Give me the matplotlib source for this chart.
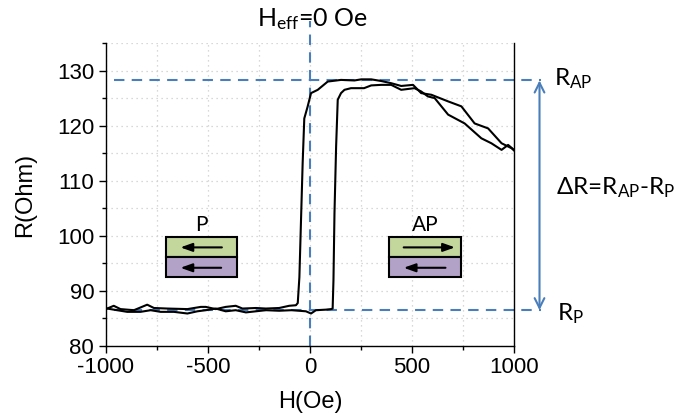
import matplotlib
matplotlib.use('Agg')
import matplotlib.pyplot as plt
from matplotlib.patches import Rectangle
from matplotlib.ticker import MultipleLocator

plt.rcParams['font.family'] = ['Liberation Sans', 'DejaVu Sans']
plt.rcParams['mathtext.default'] = 'regular'
plt.rcParams['axes.unicode_minus'] = False

# ramo de subida (H crescente): P -> AP perto de +110 Oe
h_up = [-1000, -994, -962, -945, -896, -831, -781, -732, -667, -601, -552, -511,
        -462, -413, -364, -314, -265, -216, -151, -90, -20, 5, 29, 78, 103, 111,
        115, 120, 128, 136, 152, 169, 201, 265, 300, 349, 398, 447, 512, 545, 578,
        611, 677, 758, 840, 889, 939, 971, 1000]
r_up = [86.8, 86.8, 86.6, 86.5, 86.2, 86.2, 86.5, 86.2, 86.2, 85.9, 86.3, 86.5,
        86.8, 86.3, 86.5, 86.1, 86.3, 86.5, 86.4, 86.5, 86.3, 85.9, 86.5, 86.6, 86.7, 86.8,
        91.9, 104.1, 116.2, 124.7, 125.9, 126.5, 126.8, 126.8, 127.3, 127.4, 127.4, 126.5,
        126.8, 126.2, 125.3, 125.0, 122.0, 120.4, 117.7, 116.8, 115.6, 116.5, 115.6]

# ramo de descida (H decrescente): AP -> P perto de -60 Oe
h_down = [1000, 988, 939, 873, 807, 742, 677, 595, 545, 505, 447, 398, 349, 300,
          251, 218, 152, 87, 38, 5, -12, -28, -36, -44, -52, -60, -69, -102, -151,
          -216, -265, -331, -364, -413, -462, -511, -535, -601, -699, -765, -798,
          -863, -929, -962, -994, -1000]
r_down = [115.5, 115.9, 116.8, 119.5, 120.4, 123.5, 124.4, 125.6, 125.9, 127.4, 127.2,
          127.7, 128.1, 128.4, 128.4, 128.2, 128.3, 128.0, 126.5, 125.9, 123.4, 121.3,
          113.2, 102.9, 92.5, 87.8, 87.4, 87.3, 86.9, 86.8, 86.9, 86.8, 87.3, 87.1,
          86.7, 87.1, 87.1, 86.7, 86.8, 86.9, 87.5, 86.5, 86.7, 87.3, 86.8, 86.8]

r_ap = 128.2
r_p = 86.5
azul = '#4a7ebb'

fig = plt.figure(figsize=(6.79, 4.19), dpi=100)
ax = fig.add_axes([0.1561, 0.1742, 0.6009, 0.7232])

ax.plot(h_up, r_up, color='black', lw=1.5, zorder=3)
ax.plot(h_down, r_down, color='black', lw=1.5, zorder=3)

ax.set_xlim(-1000, 1000)
ax.set_ylim(80, 135)
ax.xaxis.set_major_locator(MultipleLocator(500))
ax.xaxis.set_minor_locator(MultipleLocator(250))
ax.yaxis.set_major_locator(MultipleLocator(10))
ax.yaxis.set_minor_locator(MultipleLocator(5))
ax.set_yticks([80, 90, 100, 110, 120, 130])
ax.tick_params(which='major', direction='out', length=5, width=1, labelsize=16)
ax.tick_params(which='minor', direction='out', length=3, width=1)
ax.tick_params(axis='x', pad=3)
ax.grid(True, which='both', color='#cccccc', lw=0.9, linestyle=(0, (1, 3)))
ax.spines['top'].set_visible(False)
for s in ['left', 'bottom', 'right']:
    ax.spines[s].set_linewidth(1.0)

ax.set_xlabel('H(Oe)', fontsize=17, labelpad=9)
ax.set_ylabel('R(Ohm)', fontsize=17, labelpad=15)

# linhas tracejadas de referência
dash = (0, (5, 3.5))
ax.plot([-960, 1130], [r_ap, r_ap], color=azul, lw=1.5, ls=dash, clip_on=False, zorder=2)
ax.plot([-960, 1130], [r_p, r_p], color=azul, lw=1.5, ls=dash, clip_on=False, zorder=2)
ax.plot([0, 0], [80, 139], color=azul, lw=1.5, ls=dash, clip_on=False, zorder=2)

ax.annotate('', xy=(1125, r_ap), xytext=(1125, r_p), annotation_clip=False,
            arrowprops=dict(arrowstyle='<->,head_length=0.7,head_width=0.35',
                            color=azul, lw=1.5, shrinkA=0, shrinkB=0))

fonte = ['Lato', 'DejaVu Sans']
ax.text(1195, r_ap + 0.3, r'R$_{AP}$', fontsize=17.5, family=fonte, va='center', ha='left', clip_on=False)
ax.text(1205, 108.7, r'ΔR=R$_{AP}$-R$_{P}$', fontsize=17.5, family=fonte, va='center', ha='left', clip_on=False)
ax.text(1210, r_p - 0.6, r'R$_{P}$', fontsize=17.5, family=fonte, va='center', ha='left', clip_on=False)
fig.text(0.46, 0.955, r'H$_{eff}$=0 Oe', fontsize=18, family=fonte, ha='center', va='center')

# desenhos das camadas P e AP
def camadas(x0, x1, seta_cima, rotulo):
    ax.add_patch(Rectangle((x0, 96.1), x1 - x0, 3.6, facecolor='#c3d69b', edgecolor='black', lw=1.5, zorder=4))
    ax.add_patch(Rectangle((x0, 92.5), x1 - x0, 3.6, facecolor='#b3a2c7', edgecolor='black', lw=1.5, zorder=4))
    larg = x1 - x0
    if seta_cima == 'esq':
        ax.annotate('', xy=(x0 + 0.17 * larg, 97.9), xytext=(x0 + 0.83 * larg, 97.9),
                    arrowprops=dict(arrowstyle='-|>,head_length=0.7,head_width=0.25', color='black', lw=1.5), zorder=5)
    else:
        ax.annotate('', xy=(x1 - 0.05 * larg, 97.9), xytext=(x0 + 0.17 * larg, 97.9),
                    arrowprops=dict(arrowstyle='-|>,head_length=0.7,head_width=0.25', color='black', lw=1.5), zorder=5)
    ax.annotate('', xy=(x0 + 0.17 * larg, 94.2), xytext=(x0 + 0.82 * larg, 94.2),
                arrowprops=dict(arrowstyle='-|>,head_length=0.7,head_width=0.25', color='black', lw=1.5), zorder=5)
    ax.text((x0 + x1) / 2, 101.9, rotulo, fontsize=15, family=fonte, ha='center', va='center', zorder=5)

camadas(-708, -359, 'esq', 'P')
camadas(385, 742, 'dir', 'AP')

fig.savefig('out.png', dpi=100)
